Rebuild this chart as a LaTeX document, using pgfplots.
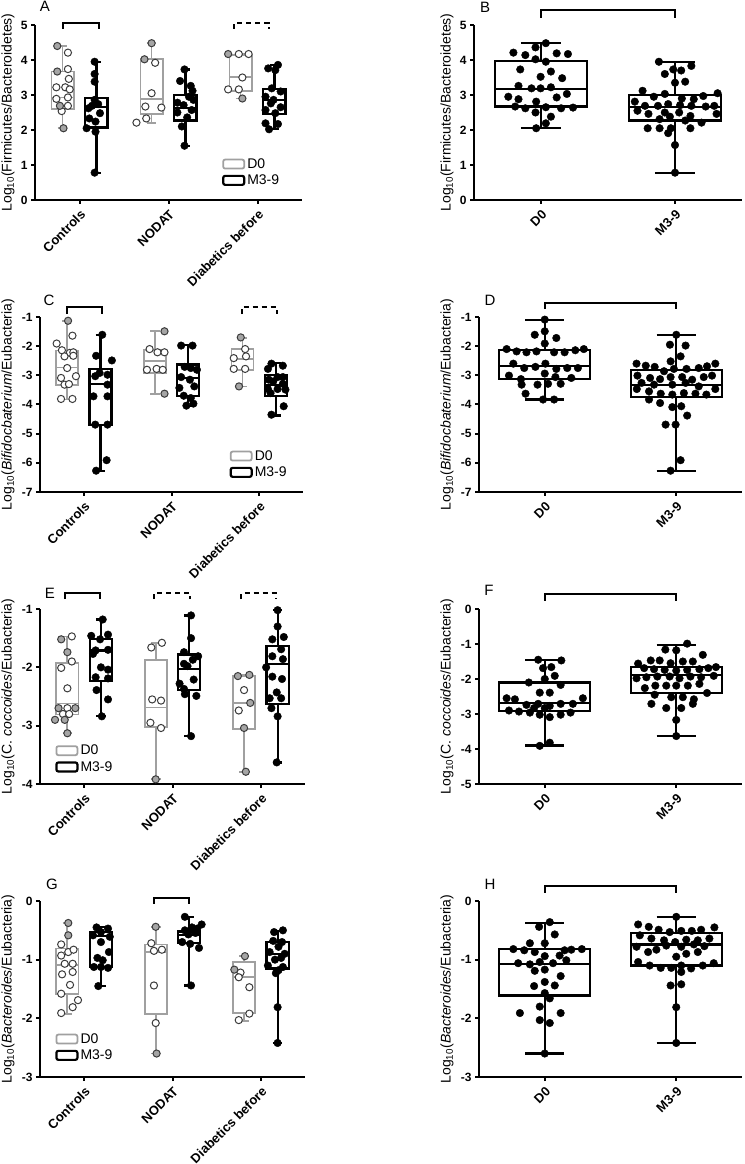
\documentclass[border=0pt]{standalone}
\usepackage{fontspec}
\setmainfont{Liberation Sans}
\usepackage{pgfplots}
\pgfplotsset{compat=1.18}
\usepgfplotslibrary{statistics}

\definecolor{boxgray}{RGB}{160,160,160}
\definecolor{ringgray}{RGB}{60,60,60}
\definecolor{dotgray}{RGB}{165,165,165}

\tikzset{
  sig/.style={line width=2pt},
  sigdash/.style={line width=2pt, dash pattern=on 5pt off 4pt},
}
\pgfplotsset{
  panel/.style={scale only axis, height=175pt, anchor=south west,
    axis lines*=left, axis line style={line width=2pt},
    tick align=outside, major tick length=4pt,
    every tick/.style={black, line width=2pt},
    tick label style={font=\bfseries\fontsize{12}{14}\selectfont},
    /pgf/number format/assume math mode=true,
    x tick label style={rotate=45, anchor=north east, font=\bfseries\fontsize{13}{15}\selectfont},
    ylabel style={font=\fontsize{14}{16}\selectfont, anchor=center},
    boxplot/draw direction=y,
    clip=false},
  grouped/.style={panel, xmin=0.5, xmax=3.5, xtick={1,2,3},
    xticklabels={Controls,NODAT,Diabetics before},
    boxplot/box extend=0.25, boxplot/whisker extend=0.11},
  pooled/.style={panel, xmin=0.5, xmax=2.5, xtick={1,2}, xticklabels={D0,M3-9},
    boxplot/box extend=0.69, boxplot/whisker extend=0.3},
  d0box/.style={forget plot, draw=boxgray, line width=1.8pt},
  mbox/.style={forget plot, draw=black, line width=2.2pt},
  openpt/.style={forget plot, only marks, mark=*, mark size=3.6pt, draw=ringgray, fill=white, line width=1pt},
  graypt/.style={openpt, fill=dotgray},
  blackpt/.style={forget plot, only marks, mark=*, mark size=3.8pt, draw=black, fill=black},
  keyd0/.style={legend image code/.code={\draw[boxgray, line width=1.8pt, rounded corners=2pt] (0pt,-4.5pt) rectangle (21pt,4.5pt);}},
  keym/.style={legend image code/.code={\draw[black, line width=2.2pt, rounded corners=2pt] (0pt,-4.5pt) rectangle (21pt,4.5pt);}},
  groupkey/.style={legend style={draw=none, fill=none, font=\fontsize{14}{16}\selectfont,
    anchor=north west, inner sep=0pt, row sep=1pt}, legend cell align=left},
}

\begin{document}
\begin{tikzpicture}
\path[use as bounding box] (0pt,0pt) rectangle (744pt,1164pt);

% ---------------- A ----------------
\begin{axis}[grouped, at={(35pt,964pt)}, width=267pt, ymin=0, ymax=5, ytick={0,...,5},
  ylabel={Log\textsubscript{10}(Firmicutes/Bacteroidetes)},
  ylabel style={at={([xshift=-27pt]axis description cs:0,0.5)}},
  groupkey, legend style={at={(axis description cs:0.70,0.25)}}]
\addplot[d0box, boxplot prepared={draw position=0.81, lower whisker=2.05, lower quartile=2.59, median=2.93, upper quartile=3.67, upper whisker=4.40}] coordinates {};
\addplot[mbox, boxplot prepared={draw position=1.19, lower whisker=0.78, lower quartile=2.07, median=2.65, upper quartile=2.92, upper whisker=3.95}] coordinates {};
\addplot[d0box, boxplot prepared={draw position=1.81, lower whisker=2.21, lower quartile=2.46, median=2.88, upper quartile=4.02, upper whisker=4.48}] coordinates {};
\addplot[mbox, boxplot prepared={draw position=2.19, lower whisker=1.55, lower quartile=2.27, median=2.62, upper quartile=3.00, upper whisker=3.73}] coordinates {};
\addplot[d0box, boxplot prepared={draw position=2.81, lower whisker=2.90, lower quartile=3.12, median=3.52, upper quartile=4.14, upper whisker=4.17}] coordinates {};
\addplot[mbox, boxplot prepared={draw position=3.19, lower whisker=2.02, lower quartile=2.46, median=2.86, upper quartile=3.16, upper whisker=3.86}] coordinates {};
\addplot[openpt] coordinates {(0.87,4.21) (0.87,3.74) (0.88,3.46) (0.74,3.22) (0.84,3.22) (0.89,3.16) (0.74,2.89) (0.87,2.93) (0.87,2.69) (0.80,2.54)
  (1.85,3.92) (1.81,3.05) (1.74,2.67) (1.92,2.64) (1.64,2.21) (1.75,2.33)
  (2.79,4.17) (2.90,4.17) (2.83,3.50) (2.67,3.16) (2.79,3.16)};
\addplot[graypt] coordinates {(0.75,4.40) (0.75,3.67) (0.78,2.69) (0.82,2.05) (1.81,4.48) (1.73,4.02) (2.67,4.17) (2.83,2.90)};
\addplot[blackpt] coordinates {(1.17,3.95) (1.17,3.60) (1.17,3.38) (1.17,2.86) (1.21,2.74) (1.10,2.62) (1.23,2.48) (1.11,2.33) (1.18,2.24) (1.08,2.05) (1.18,1.95) (1.17,0.78) (1.14,2.69)
  (2.18,3.73) (2.13,3.40) (2.25,3.26) (2.27,3.12) (2.10,2.78) (2.17,2.71) (2.26,2.57) (2.10,2.50) (2.21,2.36) (2.15,2.10) (2.18,1.55) (2.28,2.86) (2.23,2.95)
  (3.23,3.86) (3.12,3.76) (3.20,3.71) (3.16,3.19) (3.26,3.10) (3.09,2.95) (3.18,2.86) (3.15,2.76) (3.26,2.65) (3.09,2.57) (3.20,2.48) (3.09,2.19) (3.23,2.17) (3.13,2.02)};
\draw[sig] (axis cs:0.815,4.89) |- (axis cs:1.22,5.06) -- (axis cs:1.22,4.89);
\draw[sigdash] (axis cs:2.74,4.89) |- (axis cs:3.13,5.06) -- (axis cs:3.13,4.89);
\addlegendimage{keyd0}\addlegendentry{D0}
\addlegendimage{keym}\addlegendentry{M3-9}
\end{axis}

% ---------------- B ----------------
\begin{axis}[pooled, at={(474pt,964pt)}, width=268pt, ymin=0, ymax=5, ytick={0,...,5},
  ylabel={Log\textsubscript{10}(Firmicutes/Bacteroidetes)},
  ylabel style={at={([xshift=-27pt]axis description cs:0,0.5)}}]
\addplot[mbox, boxplot prepared={draw position=1, lower whisker=2.05, lower quartile=2.67, median=3.16, upper quartile=3.97, upper whisker=4.48}] coordinates {};
\addplot[mbox, boxplot prepared={draw position=2, lower whisker=0.78, lower quartile=2.27, median=2.65, upper quartile=3.00, upper whisker=3.95}] coordinates {};
\addplot[blackpt] coordinates {(1.036,4.48) (0.959,4.36) (0.794,4.21) (0.883,4.14) (1.117,4.19) (1.201,4.17) (0.959,4.02) (1.036,3.95) (0.845,3.73) (1.074,3.67)
  (0.997,3.52) (1.158,3.48) (0.832,3.26) (0.929,3.19) (0.997,3.19) (1.074,3.22) (1.193,3.03) (0.756,2.95) (0.832,2.88) (0.964,2.81)
  (1.117,2.93) (0.807,2.67) (0.883,2.62) (1.036,2.65) (1.150,2.62) (1.239,2.64) (0.959,2.50) (1.074,2.38) (1.036,2.19) (0.964,2.05)};
\addplot[blackpt] coordinates {(1.880,3.95) (1.924,3.60) (1.987,3.73) (2.046,3.70) (2.122,3.83) (2.000,3.35) (2.076,3.38) (1.758,3.12) (1.842,2.95) (1.924,3.03)
  (2.051,2.90) (2.140,2.88) (2.211,2.97) (2.318,3.05) (1.700,2.81) (1.776,2.69) (1.873,2.69) (1.949,2.74) (2.038,2.71) (2.122,2.69)
  (2.229,2.67) (2.293,2.69) (1.720,2.55) (1.802,2.46) (1.924,2.50) (2.031,2.50) (2.115,2.40) (2.310,2.46) (1.885,2.31) (1.962,2.38)
  (2.076,2.27) (2.198,2.21) (1.796,2.05) (1.885,2.05) (1.969,2.05) (2.115,2.05) (1.949,1.91) (2.000,1.57) (2.000,0.78)};
\draw[sig] (axis cs:1,5.2) |- (axis cs:2,5.43) -- (axis cs:2,5.2);
\end{axis}

% ---------------- C ----------------
\begin{axis}[grouped, at={(40pt,672pt)}, width=263pt, ymin=-7, ymax=-1, ytick={-7,...,-1},
  ylabel={Log\textsubscript{10}(\textit{Bifidocbaterium}/Eubacteria)},
  ylabel style={at={([xshift=-32pt]axis description cs:0,0.5)}},
  groupkey, legend style={at={(axis description cs:0.72,0.25)}}]
\addplot[d0box, boxplot prepared={draw position=0.81, lower whisker=-3.83, lower quartile=-3.32, median=-2.73, upper quartile=-2.15, upper whisker=-1.13}] coordinates {};
\addplot[mbox, boxplot prepared={draw position=1.19, lower whisker=-6.29, lower quartile=-4.69, median=-3.29, upper quartile=-2.78, upper whisker=-1.61}] coordinates {};
\addplot[d0box, boxplot prepared={draw position=1.81, lower whisker=-3.63, lower quartile=-2.92, median=-2.52, upper quartile=-2.12, upper whisker=-1.49}] coordinates {};
\addplot[mbox, boxplot prepared={draw position=2.19, lower whisker=-4.04, lower quartile=-3.70, median=-3.09, upper quartile=-2.63, upper whisker=-1.95}] coordinates {};
\addplot[d0box, boxplot prepared={draw position=2.81, lower whisker=-3.38, lower quartile=-2.81, median=-2.45, upper quartile=-2.10, upper whisker=-1.72}] coordinates {};
\addplot[mbox, boxplot prepared={draw position=3.19, lower whisker=-4.38, lower quartile=-3.70, median=-3.32, upper quartile=-2.98, upper whisker=-2.58}] coordinates {};
\addplot[openpt] coordinates {(0.87,-1.64) (0.69,-1.91) (0.75,-2.14) (0.84,-2.23) (0.88,-2.21) (0.78,-2.35) (0.88,-2.33) (0.81,-2.75) (0.91,-3.03) (0.74,-3.09) (0.78,-3.32) (0.83,-3.30) (0.74,-3.81) (0.87,-3.81)
  (1.75,-2.10) (1.84,-2.21) (1.92,-2.21) (1.72,-2.81) (1.83,-2.78) (1.90,-2.81)
  (2.84,-2.10) (2.71,-2.41) (2.71,-2.78) (2.84,-2.78) (2.85,-2.35)};
\addplot[graypt] coordinates {(0.82,-1.13) (1.92,-1.49) (1.92,-3.63) (2.79,-1.70) (2.77,-3.38)};
\addplot[blackpt] coordinates {(1.21,-1.61) (1.14,-2.33) (1.32,-2.49) (1.18,-2.92) (1.27,-2.98) (1.13,-3.03) (1.27,-3.32) (1.11,-3.72) (1.27,-3.72) (1.13,-4.69) (1.27,-4.69) (1.26,-5.91) (1.14,-6.27)
  (2.11,-1.98) (2.24,-1.98) (2.22,-2.75) (2.29,-2.81) (2.11,-3.06) (2.21,-3.15) (2.26,-3.38) (2.09,-3.43) (2.14,-3.70) (2.22,-3.78) (2.17,-4.04) (2.25,-3.97) (2.15,-2.71)
  (3.14,-2.60) (3.27,-2.67) (3.10,-2.78) (3.27,-3.06) (3.16,-3.21) (3.27,-3.29) (3.10,-3.47) (3.21,-3.47) (3.13,-3.61) (3.28,-4.06) (3.14,-4.35) (3.21,-3.06) (3.11,-3.15) (3.30,-3.49)};
\draw[sig] (axis cs:0.81,-0.9) |- (axis cs:1.21,-0.66) -- (axis cs:1.21,-0.9);
\draw[sigdash] (axis cs:2.80,-0.9) |- (axis cs:3.20,-0.66) -- (axis cs:3.20,-0.9);
\addlegendimage{keyd0}\addlegendentry{D0}
\addlegendimage{keym}\addlegendentry{M3-9}
\end{axis}

% ---------------- D ----------------
\begin{axis}[pooled, at={(479pt,672pt)}, width=263pt, ymin=-7, ymax=-1, ytick={-7,...,-1},
  ylabel={Log\textsubscript{10}(\textit{Bifidocbaterium}/Eubacteria)},
  ylabel style={at={([xshift=-32pt]axis description cs:0,0.5)}}]
\addplot[mbox, boxplot prepared={draw position=1, lower whisker=-3.83, lower quartile=-3.13, median=-2.69, upper quartile=-2.12, upper whisker=-1.11}] coordinates {};
\addplot[mbox, boxplot prepared={draw position=2, lower whisker=-6.27, lower quartile=-3.75, median=-3.32, upper quartile=-2.81, upper whisker=-1.61}] coordinates {};
\addplot[blackpt] coordinates {(1.000,-1.09) (0.924,-1.61) (1.000,-1.49) (1.088,-1.72) (1.000,-1.91) (0.710,-2.10) (0.786,-2.18) (0.861,-2.21) (0.937,-2.18) (1.071,-2.21)
  (1.151,-2.21) (1.232,-2.14) (1.297,-2.10) (0.761,-2.60) (0.844,-2.75) (0.929,-2.71) (1.005,-2.60) (1.088,-2.78) (1.171,-2.75) (1.252,-2.75)
  (0.728,-3.01) (0.819,-3.13) (1.000,-2.94) (1.081,-3.06) (1.202,-3.09) (0.824,-3.32) (0.945,-3.32) (1.025,-3.29) (1.121,-3.29) (0.854,-3.63)
  (0.987,-3.83) (1.071,-3.83)};
\addplot[blackpt] coordinates {(2.000,-1.61) (1.952,-1.95) (2.071,-1.98) (2.033,-2.35) (1.957,-2.52) (1.698,-2.60) (1.768,-2.67) (1.836,-2.71) (1.907,-2.86) (1.982,-2.78)
  (2.078,-2.78) (2.171,-2.75) (2.234,-2.69) (2.297,-2.60) (1.705,-3.01) (1.801,-3.09) (1.877,-3.13) (1.957,-3.06) (2.045,-3.06) (2.121,-3.15)
  (2.209,-3.06) (2.272,-3.01) (1.736,-3.26) (1.831,-3.32) (1.970,-3.32) (2.071,-3.26) (2.171,-3.38) (1.700,-3.47) (1.793,-3.55) (1.882,-3.63)
  (1.970,-3.66) (2.058,-3.61) (2.146,-3.63) (2.229,-3.66) (2.297,-3.47) (1.793,-3.83) (1.877,-3.95) (1.970,-4.09) (2.038,-4.06) (2.083,-4.38)
  (1.919,-4.69) (1.995,-4.69) (2.033,-5.91) (1.957,-6.27)};
\draw[sig] (axis cs:1,-0.73) |- (axis cs:2,-0.52) -- (axis cs:2,-0.73);
\end{axis}

% ---------------- E ----------------
\begin{axis}[grouped, at={(40pt,380pt)}, width=265pt, ymin=-4, ymax=-1, ytick={-4,...,-1},
  ylabel={Log\textsubscript{10}(C. \textit{coccoides}/Eubacteria)},
  ylabel style={at={([xshift=-32pt]axis description cs:0,0.5)}},
  groupkey, legend style={at={(axis description cs:0.057,0.235)}}]
\addplot[d0box, boxplot prepared={draw position=0.81, lower whisker=-3.13, lower quartile=-2.81, median=-2.62, upper quartile=-1.93, upper whisker=-1.47}] coordinates {};
\addplot[mbox, boxplot prepared={draw position=1.19, lower whisker=-2.84, lower quartile=-2.23, median=-1.71, upper quartile=-1.52, upper whisker=-1.18}] coordinates {};
\addplot[d0box, boxplot prepared={draw position=1.81, lower whisker=-3.92, lower quartile=-3.02, median=-2.69, upper quartile=-1.88, upper whisker=-1.58}] coordinates {};
\addplot[mbox, boxplot prepared={draw position=2.19, lower whisker=-3.18, lower quartile=-2.39, median=-2.03, upper quartile=-1.78, upper whisker=-1.11}] coordinates {};
\addplot[d0box, boxplot prepared={draw position=2.81, lower whisker=-3.79, lower quartile=-3.06, median=-2.61, upper quartile=-2.15, upper whisker=-2.13}] coordinates {};
\addplot[mbox, boxplot prepared={draw position=3.19, lower whisker=-3.63, lower quartile=-2.63, median=-1.94, upper quartile=-1.63, upper whisker=-1.02}] coordinates {};
\addplot[openpt] coordinates {(0.86,-1.47) (0.86,-1.90) (0.74,-2.01) (0.81,-2.36) (0.81,-2.70) (0.76,-2.80) (0.83,-2.80)
  (1.76,-1.66) (1.88,-1.58) (1.77,-2.55) (1.87,-2.57) (1.75,-2.95) (1.87,-3.04)
  (2.81,-2.39) (2.75,-2.74)};
\addplot[graypt] coordinates {(0.74,-1.52) (0.81,-1.74) (0.71,-2.70) (0.90,-2.70) (0.67,-2.90) (0.78,-2.90) (0.81,-3.13)
  (1.81,-3.92) (2.74,-2.15) (2.87,-2.13) (2.88,-2.61) (2.81,-3.04) (2.83,-3.79)};
\addplot[blackpt] coordinates {(1.21,-1.18) (1.08,-1.46) (1.27,-1.44) (1.18,-1.52) (1.13,-1.71) (1.27,-1.70) (1.10,-1.77) (1.19,-2.00) (1.27,-2.04) (1.13,-2.17) (1.27,-2.19) (1.14,-2.39) (1.27,-2.55) (1.20,-2.84)
  (2.21,-1.11) (2.21,-1.50) (2.13,-1.74) (2.29,-1.81) (2.23,-1.87) (2.17,-1.98) (2.13,-1.94) (2.08,-2.28) (2.24,-2.21) (2.13,-2.37) (2.27,-2.49) (2.14,-2.46) (2.21,-3.18)
  (3.19,-1.02) (3.19,-1.30) (3.26,-1.48) (3.13,-1.52) (3.23,-1.69) (3.13,-1.81) (3.25,-1.86) (3.06,-2.00) (3.13,-2.16) (3.24,-2.20) (3.18,-2.43) (3.10,-2.53) (3.23,-2.53) (3.12,-2.70) (3.19,-2.84) (3.18,-3.63)};
\draw[sig] (axis cs:0.78,-0.83) |- (axis cs:1.18,-0.73) -- (axis cs:1.18,-0.83);
\draw[sigdash] (axis cs:1.79,-0.83) |- (axis cs:2.20,-0.73) -- (axis cs:2.20,-0.83);
\draw[sigdash] (axis cs:2.78,-0.83) |- (axis cs:3.17,-0.73) -- (axis cs:3.17,-0.83);
\addlegendimage{keyd0}\addlegendentry{D0}
\addlegendimage{keym}\addlegendentry{M3-9}
\end{axis}

% ---------------- F ----------------
\begin{axis}[pooled, at={(479pt,380pt)}, width=263pt, ymin=-5, ymax=0, ytick={-5,...,0},
  ylabel={Log\textsubscript{10}(C. \textit{coccoides}/Eubacteria)},
  ylabel style={at={([xshift=-32pt]axis description cs:0,0.5)}}]
\addplot[mbox, boxplot prepared={draw position=1, lower whisker=-3.90, lower quartile=-2.91, median=-2.69, upper quartile=-2.10, upper whisker=-1.45}] coordinates {};
\addplot[mbox, boxplot prepared={draw position=2, lower whisker=-3.63, lower quartile=-2.40, median=-1.88, upper quartile=-1.66, upper whisker=-1.02}] coordinates {};
\addplot[blackpt] coordinates {(0.950,-1.45) (1.126,-1.47) (0.987,-1.69) (1.050,-1.66) (1.076,-1.91) (1.000,-2.00) (0.879,-2.10) (1.121,-2.17) (0.962,-2.39) (1.038,-2.39)
  (0.710,-2.55) (0.773,-2.58) (1.290,-2.55) (0.861,-2.74) (0.950,-2.71) (1.038,-2.77) (1.121,-2.71) (1.214,-2.71) (0.728,-2.90) (0.804,-2.93)
  (0.887,-2.96) (0.962,-3.02) (1.038,-3.09) (1.121,-3.02) (1.196,-2.96) (0.919,-2.83) (1.000,-2.83) (1.038,-3.82) (0.962,-3.91)};
\addplot[blackpt] coordinates {(2.083,-0.99) (1.917,-1.16) (2.000,-1.18) (2.202,-1.31) (1.710,-1.56) (1.806,-1.47) (1.874,-1.47) (1.957,-1.55) (2.050,-1.50) (2.126,-1.50)
  (1.756,-1.69) (1.831,-1.72) (1.912,-1.74) (2.000,-1.76) (2.083,-1.74) (2.176,-1.72) (2.244,-1.69) (2.302,-1.66) (1.698,-1.98) (1.773,-1.95)
  (1.856,-1.93) (1.950,-1.93) (2.025,-1.98) (2.108,-1.93) (2.189,-1.95) (2.285,-1.91) (1.761,-2.26) (1.841,-2.19) (1.924,-2.19) (2.000,-2.19)
  (2.088,-2.19) (2.176,-2.14) (2.234,-2.40) (1.836,-2.45) (1.962,-2.52) (2.050,-2.52) (2.134,-2.58) (1.924,-2.83) (2.038,-2.83) (1.811,-2.71)
  (2.126,-2.71) (2.000,-3.17) (2.000,-3.63)};
\draw[sig] (axis cs:1,0.23) |- (axis cs:2,0.43) -- (axis cs:2,0.23);
\end{axis}

% ---------------- G ----------------
\begin{axis}[grouped, at={(40pt,87pt)}, width=265pt, height=176pt, ymin=-3, ymax=0, ytick={-3,...,0},
  ylabel={Log\textsubscript{10}(\textit{Bacteroides}/Eubacteria)},
  ylabel style={at={([xshift=-32pt]axis description cs:0,0.5)}},
  groupkey, legend style={at={(axis description cs:0.057,0.26)}}]
\addplot[d0box, boxplot prepared={draw position=0.81, lower whisker=-1.92, lower quartile=-1.58, median=-1.09, upper quartile=-0.81, upper whisker=-0.375}] coordinates {};
\addplot[mbox, boxplot prepared={draw position=1.19, lower whisker=-1.45, lower quartile=-1.125, median=-0.60, upper quartile=-0.53, upper whisker=-0.44}] coordinates {};
\addplot[d0box, boxplot prepared={draw position=1.81, lower whisker=-2.60, lower quartile=-1.92, median=-0.87, upper quartile=-0.74, upper whisker=-0.44}] coordinates {};
\addplot[mbox, boxplot prepared={draw position=2.19, lower whisker=-1.44, lower quartile=-0.72, median=-0.585, upper quartile=-0.52, upper whisker=-0.27}] coordinates {};
\addplot[d0box, boxplot prepared={draw position=2.81, lower whisker=-2.05, lower quartile=-1.91, median=-1.30, upper quartile=-1.04, upper whisker=-0.94}] coordinates {};
\addplot[mbox, boxplot prepared={draw position=3.19, lower whisker=-2.42, lower quartile=-1.15, median=-0.91, upper quartile=-0.70, upper whisker=-0.51}] coordinates {};
\addplot[openpt] coordinates {(0.74,-0.74) (0.74,-0.93) (0.82,-0.87) (0.88,-0.83) (0.78,-1.07) (0.87,-1.07) (0.87,-1.21) (0.75,-1.25) (0.74,-1.58) (0.84,-1.43) (0.93,-1.69) (0.87,-1.81) (0.74,-1.91)
  (1.76,-0.72) (1.79,-0.85) (1.88,-0.83) (1.79,-1.44) (1.81,-2.08)
  (2.77,-1.22) (2.75,-1.30) (2.87,-1.47) (2.87,-1.92) (2.75,-2.03)};
\addplot[graypt] coordinates {(0.82,-0.375) (0.82,-0.585) (1.81,-0.44) (1.82,-2.60) (2.82,-0.94) (2.70,-1.17)};
\addplot[blackpt] coordinates {(1.14,-0.45) (1.27,-0.47) (1.19,-0.53) (1.10,-0.585) (1.29,-0.61) (1.19,-0.70) (1.28,-0.87) (1.15,-0.97) (1.21,-1.01) (1.11,-1.125) (1.27,-1.14) (1.19,-1.125) (1.16,-1.45)
  (2.14,-0.27) (2.33,-0.40) (2.22,-0.45) (2.26,-0.545) (2.18,-0.57) (2.11,-0.70) (2.20,-0.73) (2.30,-0.80) (2.21,-1.44) (2.28,-0.47) (2.14,-0.50)
  (3.15,-0.53) (3.25,-0.50) (3.14,-0.68) (3.24,-0.70) (3.20,-0.78) (3.10,-0.87) (3.27,-0.90) (3.16,-1.00) (3.08,-1.10) (3.25,-1.125) (3.20,-1.18) (3.17,-1.23) (3.23,-0.97) (3.19,-1.81) (3.19,-2.42)};
\draw[sig] (axis cs:1.79,-0.05) |- (axis cs:2.19,0.05) -- (axis cs:2.19,-0.05);
\addlegendimage{keyd0}\addlegendentry{D0}
\addlegendimage{keym}\addlegendentry{M3-9}
\end{axis}

% ---------------- H ----------------
\begin{axis}[pooled, at={(479pt,87pt)}, width=263pt, height=176pt, ymin=-3, ymax=0, ytick={-3,...,0},
  ylabel={Log\textsubscript{10}(\textit{Bacteroides}/Eubacteria)},
  ylabel style={at={([xshift=-32pt]axis description cs:0,0.5)}}]
\addplot[mbox, boxplot prepared={draw position=1, lower whisker=-2.60, lower quartile=-1.61, median=-1.08, upper quartile=-0.82, upper whisker=-0.37}] coordinates {};
\addplot[mbox, boxplot prepared={draw position=2, lower whisker=-2.42, lower quartile=-1.10, median=-0.74, upper quartile=-0.545, upper whisker=-0.27}] coordinates {};
\addplot[blackpt] coordinates {(1.038,-0.36) (0.957,-0.44) (1.076,-0.57) (0.887,-0.72) (1.000,-0.72) (0.761,-0.82) (0.844,-0.84) (0.924,-0.87) (1.151,-0.84) (1.202,-0.83)
  (1.282,-0.82) (1.000,-0.94) (1.113,-0.93) (0.798,-1.06) (0.887,-1.08) (0.962,-1.04) (1.063,-1.06) (1.164,-1.01) (0.924,-1.19) (1.000,-1.17)
  (1.121,-1.28) (1.000,-1.38) (0.919,-1.45) (1.076,-1.44) (1.000,-1.57) (1.038,-1.66) (0.962,-1.80) (0.811,-1.91) (1.121,-1.91) (0.962,-2.03)
  (1.038,-2.08) (1.000,-2.60)};
\addplot[blackpt] coordinates {(2.000,-0.27) (1.710,-0.40) (1.791,-0.44) (1.866,-0.49) (1.950,-0.53) (2.038,-0.51) (2.118,-0.51) (2.189,-0.49) (2.290,-0.45) (1.723,-0.585)
  (1.811,-0.64) (1.907,-0.67) (1.992,-0.70) (2.076,-0.66) (2.164,-0.67) (2.252,-0.64) (1.698,-0.78) (1.849,-0.83) (1.924,-0.76) (2.038,-0.78)
  (2.134,-0.74) (2.214,-0.77) (1.786,-0.87) (2.000,-0.95) (2.076,-0.90) (2.164,-0.87) (1.710,-1.04) (1.798,-1.10) (1.882,-1.14) (1.962,-1.14)
  (2.038,-1.10) (2.113,-1.15) (2.202,-1.10) (2.285,-1.06) (2.038,-1.21) (1.957,-1.44) (2.038,-1.42) (2.000,-1.81) (2.000,-2.42)};
\draw[sig] (axis cs:1,0.14) |- (axis cs:2,0.26) -- (axis cs:2,0.14);
\end{axis}

% panel letters
\begin{scope}[every node/.style={font=\fontsize{15}{17}\selectfont}]
\node at (45pt,1158pt) {A};
\node at (485pt,1157pt) {B};
\node at (49pt,864pt) {C};
\node at (490pt,864pt) {D};
\node at (50pt,571pt) {E};
\node at (489pt,574pt) {F};
\node at (52pt,280pt) {G};
\node at (490pt,280pt) {H};
\end{scope}
\end{tikzpicture}
\end{document}
